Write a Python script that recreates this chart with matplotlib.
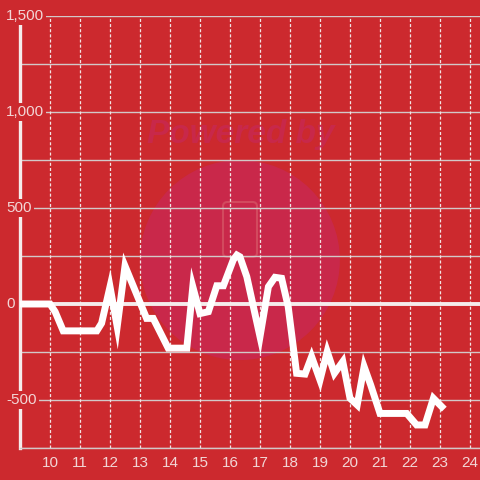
import matplotlib
matplotlib.use("Agg")
import matplotlib.pyplot as plt
from matplotlib.patches import Ellipse, FancyBboxPatch
import matplotlib.transforms as mtransforms

plt.rcParams['font.family'] = ['Liberation Sans', 'DejaVu Sans']
plt.rcParams['lines.scale_dashes'] = False

# data
hours = [9.0, 10.0, 10.17, 10.44, 11.56, 11.72, 12.0, 12.24, 12.5, 13.22, 13.44,
         13.94, 14.56, 14.76, 15.0, 15.28, 15.56, 15.78, 16.11, 16.23, 16.33,
         16.56, 17.0, 17.28, 17.5, 17.72, 17.94, 18.22, 18.5, 18.72, 19.0,
         19.24, 19.48, 19.76, 20.0, 20.24, 20.47, 20.69, 21.0, 21.89, 22.22,
         22.5, 22.78, 23.06]
values = [0, 0, -40, -140, -140, -100, 90, -118, 198, -75, -75,
          -230, -230, 90, -50, -40, 95, 95, 230, 255, 246,
          142, -170, 90, 139, 134, -14, -361, -365, -274, -396,
          -248, -361, -300, -491, -526, -326, -422, -570, -570, -630,
          -630, -491, -535]
x_ticks = list(range(10, 25))
y_label_vals = [1500, 1000, 500, 0, -500]
y_label_txt = ["1,500", "1,000", "500", "0", "-500"]
y_grid = [-750, -500, -250, 0, 250, 500, 750, 1000, 1250, 1500]

BG = "#CC292E"
fig = plt.figure(figsize=(4.8, 4.8), dpi=100, facecolor=BG)
ax = fig.add_axes([20/480, 32/480, 460/480, 432/480])
ax.set_facecolor(BG)
ax.set_xlim(9, 9 + 460/30)
ax.set_ylim(-750, 1500)

# watermark
ax.add_patch(Ellipse((0.478, 0.435), 200/460, 200/432, transform=ax.transAxes,
                     facecolor="#C9284A", edgecolor="none", zorder=0.1))
ax.add_patch(FancyBboxPatch(((223-20)/460, (448-257)/432), 34/460, 55/432,
                            boxstyle="round,pad=0,rounding_size=0.01",
                            transform=ax.transAxes, facecolor="none",
                            edgecolor="#D24A5E", lw=1.5, zorder=0.15))
ax.text(0.479, (448-135)/432, "Powered by", transform=ax.transAxes, ha="center",
        va="center", fontsize=24, fontweight="bold", style="italic",
        color="#C8284A", zorder=0.2)

# grids
for yv in y_grid:
    if yv == 0:
        continue
    ax.axhline(yv, color="#D2C8C8", lw=1.0, zorder=0.6)
for xv in x_ticks:
    ax.axvline(xv, color="#F3E4E4", lw=0.9, linestyle=(0, (2.2, 1.5)), zorder=0.6)
ax.axhline(0, color="#F5ECEC", lw=2.8, zorder=1)

for s in ["top", "right", "left"]:
    ax.spines[s].set_visible(False)
ax.spines["bottom"].set_color("#D2C8C8")
ax.spines["bottom"].set_linewidth(1.0)
ax.axvline(9, color="#F5ECEC", lw=2.4, zorder=1.2, clip_on=False)

ax.plot(hours, values, color="white", lw=5, solid_joinstyle="miter", zorder=3)

ax.set_xticks(x_ticks)
ax.set_xticklabels([str(v) for v in x_ticks], fontsize=11, color="#F2D6D6")
ax.tick_params(axis="x", length=0, pad=6)
ax.set_yticks([])

trans = mtransforms.blended_transform_factory(fig.transFigure, ax.transData)
for v, t in zip(y_label_vals, y_label_txt):
    ax.text(6/480, v, t, transform=trans, ha="left", va="center", fontsize=11,
            color="#F2D6D6", zorder=5, clip_on=False,
            bbox=dict(boxstyle="square,pad=0.15", facecolor=BG, edgecolor="none"))

fig.savefig("out.png", dpi=100, facecolor=BG)
